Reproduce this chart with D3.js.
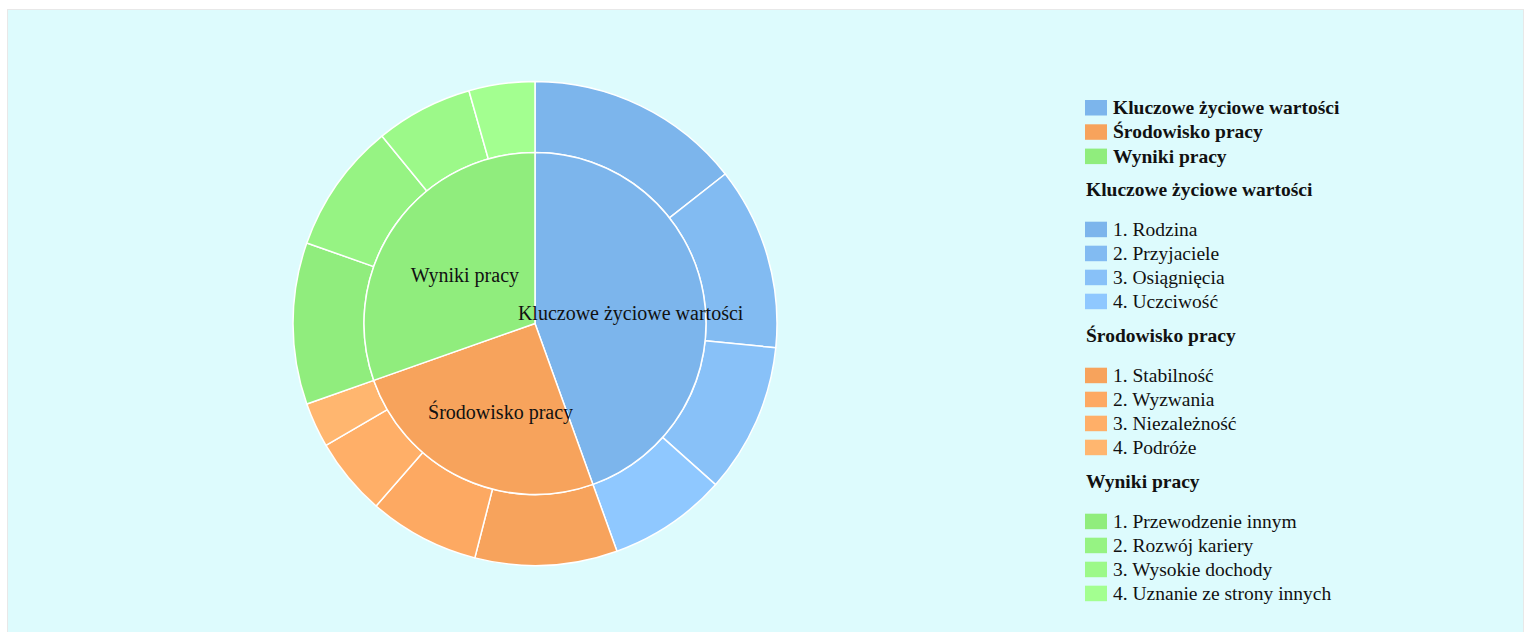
<!DOCTYPE html>
<html>
<head>
<meta charset="utf-8">
<script src="https://cdn.jsdelivr.net/npm/d3@7"></script>
<style>
  body { margin: 0; background: #fff; }
  text { font-family: "Liberation Serif", "Times New Roman", serif; fill: #111; }
</style>
</head>
<body>
<script>
var width = 1531;
var height = 632;

// data
var groupNames = ["Kluczowe życiowe wartości", "Środowisko pracy", "Wyniki pracy"];
var groupColors = ["#7cb5ec", "#f7a35c", "#90ed7d"];

var kluczoweItems = ["1. Rodzina", "2. Przyjaciele", "3. Osiągnięcia", "4. Uczciwość"];
var kluczoweValues = [14.4, 12.2, 10.0, 7.9];

var srodowiskoItems = ["1. Stabilność", "2. Wyzwania", "3. Niezależność", "4. Podróże"];
var srodowiskoValues = [9.5, 7.4, 5.2, 3.0];

var wynikiItems = ["1. Przewodzenie innym", "2. Rozwój kariery", "3. Wysokie dochody", "4. Uznanie ze strony innych"];
var wynikiValues = [10.8, 8.7, 6.5, 4.4];

var itemNames = [kluczoweItems, srodowiskoItems, wynikiItems];
var itemValues = [kluczoweValues, srodowiskoValues, wynikiValues];

//
// helpers
//
brighten = function(color, j, n) {
  // same idea as highcharts' brighten: add a fraction of 255 to each channel
  var add = Math.floor(255 * (j / n) / 10);
  var c = d3.rgb(color);
  return d3.rgb(Math.min(255, c.r + add), Math.min(255, c.g + add), Math.min(255, c.b + add)).formatHex();
}

var inner = groupNames.map(function(name, i) {
  return { name: name, value: d3.sum(itemValues[i]), color: groupColors[i] };
});
var outer = [];
groupNames.forEach(function(name, i) {
  itemNames[i].forEach(function(item, j) {
    outer.push({ name: item, value: itemValues[i][j], color: brighten(groupColors[i], j, itemNames[i].length), group: i });
  });
});

//
// svg + panel
//
var svg = d3.select("body").append("svg")
  .attr("width", width)
  .attr("height", height)
  ;

svg.append("rect")
  .attr("x", 7.5)
  .attr("y", 9.5)
  .attr("width", 1516)
  .attr("height", 640)
  .attr("fill", "#ddfbfd")
  .attr("stroke", "#e8e8e8")
  ;

//
// donut
//
var cx = 535, cy = 323.5;
var innerR = 171, outerR = 242;

var pie = d3.pie().sort(null).value(function(d) { return d.value; });
var innerArc = d3.arc().innerRadius(0).outerRadius(innerR);
var outerArc = d3.arc().innerRadius(innerR).outerRadius(outerR);
var labelArc = d3.arc().innerRadius(92).outerRadius(92);

var chart = svg.append("g")
  .attr("transform", "translate(" + cx + "," + cy + ")")
  ;

chart.selectAll("path.outer")
  .data(pie(outer))
  .enter().append("path")
  .attr("class", "outer")
  .attr("d", outerArc)
  .attr("fill", function(d) { return d.data.color; })
  .attr("stroke", "#fff")
  .attr("stroke-width", 1.5)
  .attr("stroke-linejoin", "round")
  ;

chart.selectAll("path.inner")
  .data(pie(inner))
  .enter().append("path")
  .attr("class", "inner")
  .attr("d", innerArc)
  .attr("fill", function(d) { return d.data.color; })
  .attr("stroke", "#fff")
  .attr("stroke-width", 1.5)
  .attr("stroke-linejoin", "round")
  ;

chart.selectAll("text.label")
  .data(pie(inner))
  .enter().append("text")
  .attr("class", "label")
  .attr("transform", function(d) {
    var c = labelArc.centroid(d);
    return "translate(" + (c[0] + 5) + "," + (c[1] + 5) + ")";
  })
  .attr("text-anchor", "middle")
  .attr("dy", "0.35em")
  .style("font-size", "20px")
  .text(function(d) { return d.data.name; })
  ;

//
// legend
//
var legend = svg.append("g");
var lx = 1085, fs = "19.5px";

addSwatch = function(y, color) {
  legend.append("rect")
    .attr("x", lx)
    .attr("y", y - 14)
    .attr("width", 22)
    .attr("height", 15.5)
    .attr("fill", color)
    ;
}
addLegendText = function(str, x, y, bold) {
  legend.append("text")
    .attr("x", x)
    .attr("y", y)
    .style("font-size", fs)
    .style("font-weight", bold ? "bold" : "normal")
    .text(str)
    ;
}

var y = 114;
inner.forEach(function(d) {
  addSwatch(y, d.color);
  addLegendText(d.name, lx + 28, y, true);
  y += 24.3;
});
y += 9.3;
groupNames.forEach(function(name, i) {
  addLegendText(name, lx + 1, y, true);
  y += 39.5;
  outer.filter(function(d) { return d.group === i; }).forEach(function(d) {
    addSwatch(y, d.color);
    addLegendText(d.name, lx + 28, y, false);
    y += 24;
  });
  y += 10.5;
});
</script>
</body>
</html>
